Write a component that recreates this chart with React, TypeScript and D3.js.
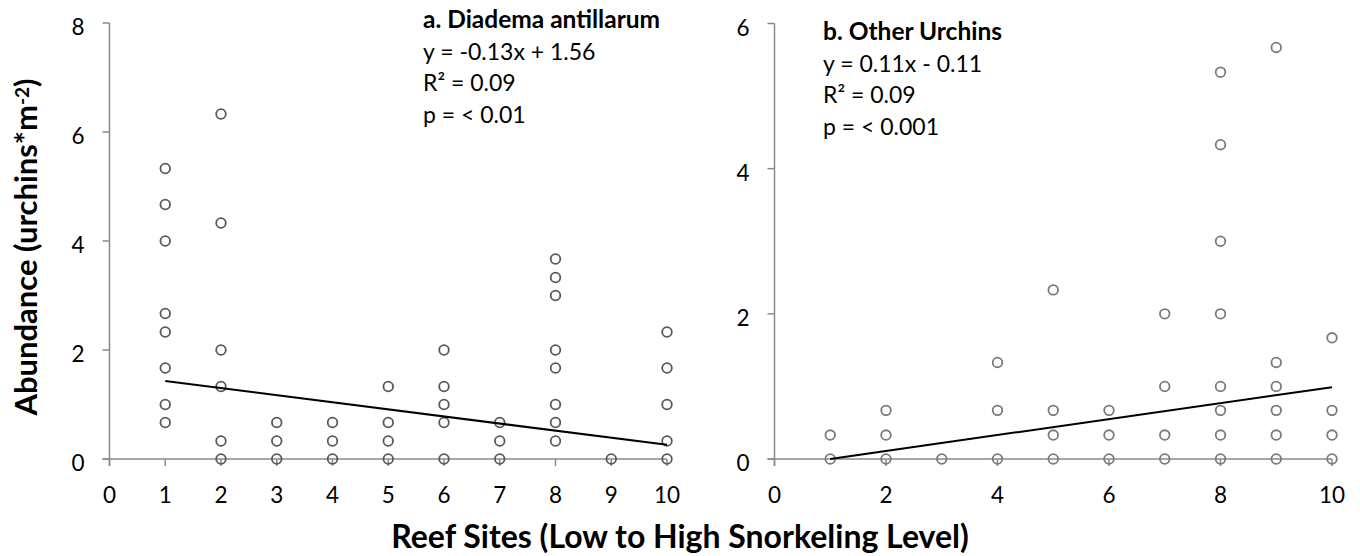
import React from "react";
import * as d3 from "d3";

// ---------- DATA ----------
const sites = [1, 2, 3, 4, 5, 6, 7, 8, 9, 10];

// Panel a: Diadema antillarum abundance (urchins per m2) by reef site
const diademaBySite: number[][] = [
  [5.33, 4.67, 4, 2.67, 2.33, 1.67, 1, 0.67],
  [6.33, 4.33, 2, 1.33, 0.33, 0],
  [0.67, 0.33, 0],
  [0.67, 0.33, 0],
  [1.33, 0.67, 0.33, 0],
  [2, 1.33, 1, 0.67, 0],
  [0.67, 0.33, 0],
  [3.67, 3.33, 3, 2, 1.67, 1, 0.67, 0.33],
  [0],
  [2.33, 1.67, 1, 0.33, 0],
];

// Panel b: Other urchins abundance by reef site
const otherBySite: number[][] = [
  [0.33, 0],
  [0.67, 0.33, 0],
  [0],
  [1.33, 0.67, 0],
  [2.33, 0.67, 0.33, 0],
  [0.67, 0.33, 0],
  [2, 1, 0.33, 0],
  [5.33, 4.33, 3, 2, 1, 0.67, 0.33, 0],
  [5.67, 1.33, 1, 0.67, 0.33, 0],
  [1.67, 0.67, 0.33, 0],
];

const fitSlope = [-0.13, 0.11];
const fitIntercept = [1.56, -0.11];

const xTicksA = [0, 1, 2, 3, 4, 5, 6, 7, 8, 9, 10];
const yTicksA = [0, 2, 4, 6, 8];
const xTicksB = [0, 2, 4, 6, 8, 10];
const yTicksB = [0, 2, 4, 6];

const titleA = "a. Diadema antillarum";
const titleB = "b. Other Urchins";
const statsA = ["y = -0.13x + 1.56", "R² = 0.09", "p = < 0.01"];
const statsB = ["y = 0.11x - 0.11", "R² = 0.09", "p = < 0.001"];

const FONT = "Lato, 'Open Sans', sans-serif";
const AXIS = "#8a8a8a";
const TICK_FS = 22.5;
const ANN_FS = 23;

type PanelProps = {
  x0: number;
  x1: number;
  yTop: number;
  yMax: number;
  xTicks: number[];
  yTicks: number[];
  data: number[][];
  slope: number;
  intercept: number;
  markerColor: string;
  title: string;
  stats: string[];
  annX: number;
  annY: number;
};

function Panel(p: PanelProps) {
  const yBottom = 459;
  const x = d3.scaleLinear().domain([0, 10]).range([p.x0, p.x1]);
  const y = d3.scaleLinear().domain([0, p.yMax]).range([yBottom, p.yTop]);
  const pts: { sx: number; v: number }[] = [];
  sites.forEach((s, i) => p.data[i].forEach((v) => pts.push({ sx: s, v })));
  const line = d3
    .line<number>()
    .x((d) => x(d))
    .y((d) => y(p.slope * d + p.intercept));
  const fitX = [sites[0], sites[sites.length - 1]];
  return (
    <g>
      {/* axes */}
      <line x1={x(0)} x2={x(0)} y1={y(0) + 7} y2={y(p.yMax)} stroke={AXIS} strokeWidth={1.5} />
      <line x1={x(0) - 7} x2={x(10)} y1={y(0)} y2={y(0)} stroke={AXIS} strokeWidth={1.5} />
      {p.yTicks.map((t) => (
        <g key={"y" + t}>
          <line x1={x(0) - 7} x2={x(0)} y1={y(t)} y2={y(t)} stroke={AXIS} strokeWidth={1.5} />
          <text x={x(0) - 25} y={y(t) + 12} textAnchor="end" fontFamily={FONT} fontSize={TICK_FS} fill="#000">
            {t}
          </text>
        </g>
      ))}
      {p.xTicks.map((t) => (
        <g key={"x" + t}>
          <line x1={x(t)} x2={x(t)} y1={y(0)} y2={y(0) + 7} stroke={AXIS} strokeWidth={1.5} />
          <text x={x(t)} y={503} textAnchor="middle" fontFamily={FONT} fontSize={TICK_FS} fill="#000">
            {t}
          </text>
        </g>
      ))}
      {/* points */}
      {pts.map((d, i) => (
        <circle key={i} cx={x(d.sx)} cy={y(d.v)} r={4.8} fill="none" stroke={p.markerColor} strokeWidth={1.8} />
      ))}
      {/* fit line */}
      <path d={line(fitX) || ""} stroke="#000" strokeWidth={2} fill="none" />
      {/* annotation */}
      <text x={p.annX} y={p.annY} fontFamily={FONT} fontSize={24.5} fontWeight="bold" fill="#000">
        {p.title}
      </text>
      {p.stats.map((s, i) => (
        <text key={s} x={p.annX} y={p.annY + 31.7 * (i + 1)} fontFamily={FONT} fontSize={ANN_FS} fill="#000">
          {s}
        </text>
      ))}
    </g>
  );
}

export default function App() {
  return (
    <svg width={1360} height={556} style={{ position: "absolute", left: 0, top: 0, background: "#fff" }}>
      <rect x={0} y={0} width={1360} height={556} fill="#fff" />
      <Panel
        x0={109.5}
        x1={667}
        yTop={23}
        yMax={8}
        xTicks={xTicksA}
        yTicks={yTicksA}
        data={diademaBySite}
        slope={fitSlope[0]}
        intercept={fitIntercept[0]}
        markerColor="#595959"
        title={titleA}
        stats={statsA}
        annX={423}
        annY={28}
      />
      <Panel
        x0={774.5}
        x1={1332}
        yTop={23.5}
        yMax={6}
        xTicks={xTicksB}
        yTicks={yTicksB}
        data={otherBySite}
        slope={fitSlope[1]}
        intercept={fitIntercept[1]}
        markerColor="#7a7a7a"
        title={titleB}
        stats={statsB}
        annX={823}
        annY={40}
      />
      <text
        transform="translate(37,247) rotate(-90)"
        textAnchor="middle"
        fontFamily={FONT}
        fontSize={31}
        fontWeight="bold"
        fill="#000"
      >
        Abundance (urchins*m
        <tspan fontSize={19} baselineShift="42%">-2</tspan>
        )
      </text>
      <text x={680} y={548} textAnchor="middle" fontFamily={FONT} fontSize={32} fontWeight="bold" fill="#000">
        Reef Sites (Low to High Snorkeling Level)
      </text>
    </svg>
  );
}
